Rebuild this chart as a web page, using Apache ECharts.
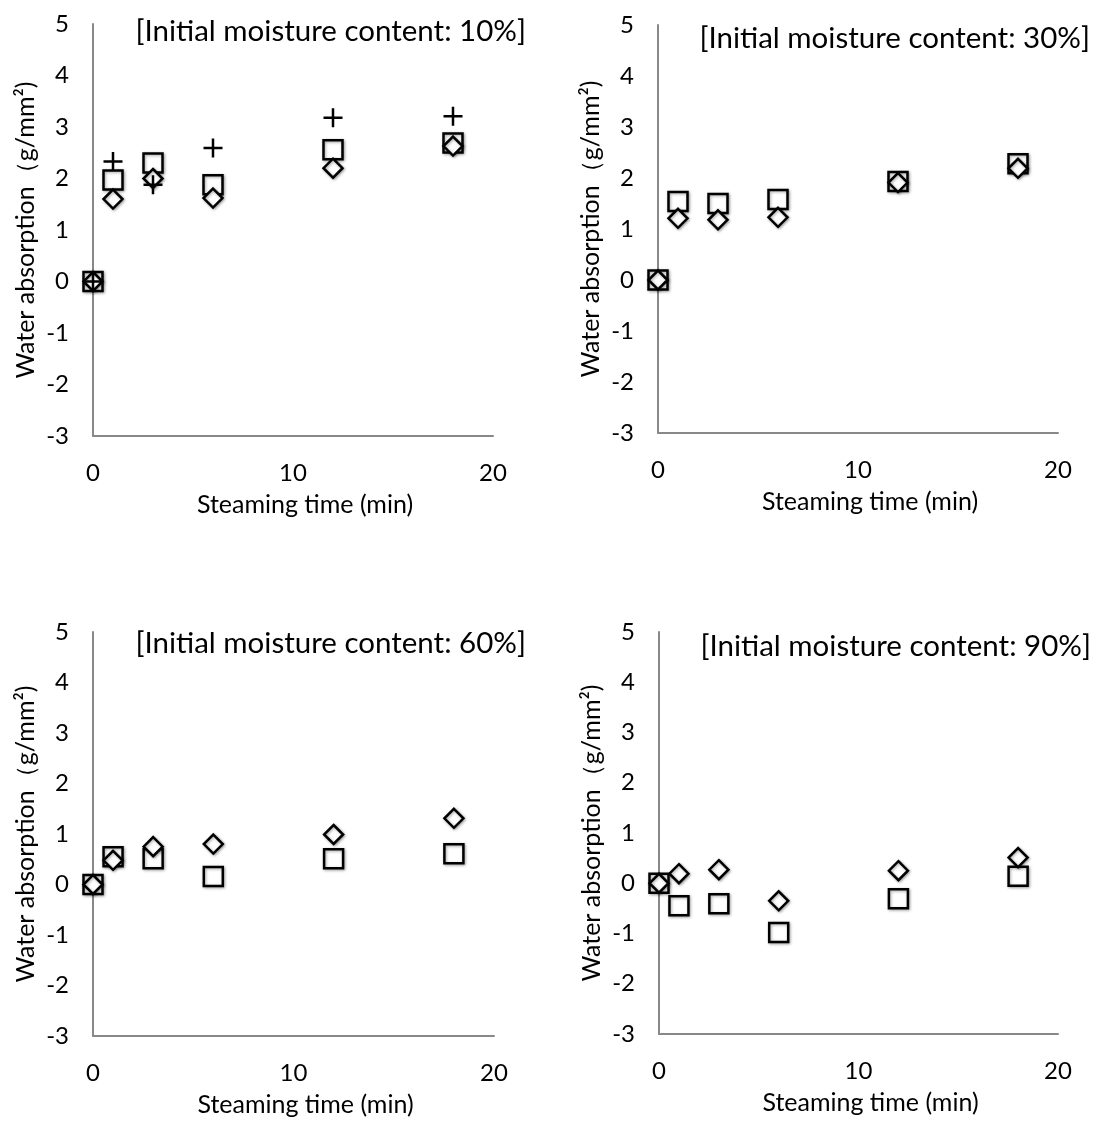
<!DOCTYPE html>
<html>
<head>
<meta charset="utf-8">
<script src="https://cdn.jsdelivr.net/npm/echarts@6/dist/echarts.min.js"></script>
<style>
html,body{margin:0;padding:0;background:#fff;}
#chart{width:1102px;height:1127px;}
</style>
</head>
<body>
<div id="chart"></div>
<script>
const times = [0, 1, 3, 6, 12, 18];
const xTicks = [0, 10, 20];
const yTicks = [-3, -2, -1, 0, 1, 2, 3, 4, 5];
const panelTitles = [
  '[Initial moisture content: 10%]',
  '[Initial moisture content: 30%]',
  '[Initial moisture content: 60%]',
  '[Initial moisture content: 90%]'
];
const mc10Square  = [0, 1.97, 2.30, 1.88, 2.56, 2.69];
const mc10Diamond = [0, 1.60, 2.00, 1.62, 2.20, 2.63];
const mc10Plus    = [0, 2.33, 1.88, 2.59, 3.18, 3.21];
const mc30Square  = [0, 1.54, 1.50, 1.58, 1.93, 2.28];
const mc30Diamond = [0, 1.21, 1.18, 1.23, 1.91, 2.19];
const mc60Square  = [0, 0.55, 0.51, 0.16, 0.51, 0.61];
const mc60Diamond = [0, 0.48, 0.75, 0.80, 0.99, 1.31];
const mc90Square  = [0, -0.45, -0.41, -0.98, -0.31, 0.14];
const mc90Diamond = [0, 0.19, 0.27, -0.35, 0.25, 0.51];

const FONT = 'Lato';
const grids = [
  {left: 93, top: 24, width: 400, height: 412},
  {left: 658, top: 25, width: 400, height: 408},
  {left: 93, top: 632, width: 401, height: 404},
  {left: 659, top: 632, width: 399, height: 402}
];
const titlePos = [
  {right: 571, top: 11},
  {right: 7, top: 18},
  {right: 571, top: 623},
  {right: 6, top: 626}
];
const panelSeries = [
  [['square', mc10Square], ['diamond', mc10Diamond], ['plus', mc10Plus]],
  [['square', mc30Square], ['diamond', mc30Diamond]],
  [['square', mc60Square], ['diamond', mc60Diamond]],
  [['square', mc90Square], ['diamond', mc90Diamond]]
];

const axisLine = {show: true, onZero: false, lineStyle: {color: '#888', width: 2}};
const xAxes = [], yAxes = [], series = [], titles = [];
grids.forEach((g, i) => {
  titles.push({
    text: panelTitles[i],
    right: titlePos[i].right, top: titlePos[i].top,
    textStyle: {fontFamily: FONT, fontSize: 29.5, fontWeight: 'normal', color: '#000'}
  });
  xAxes.push({
    type: 'value', gridIndex: i, min: xTicks[0], max: xTicks[xTicks.length - 1], interval: 10,
    axisLine: axisLine, axisTick: {show: false}, splitLine: {show: false},
    axisLabel: {fontFamily: FONT, fontSize: 24, color: '#000', margin: 25},
    name: 'Steaming time (min)', nameLocation: 'middle', nameGap: 56,
    nameTextStyle: {fontFamily: FONT, fontSize: 25, color: '#000', padding: [0, 0, 0, 24]}
  });
  yAxes.push({
    type: 'value', gridIndex: i, min: yTicks[0], max: yTicks[yTicks.length - 1], interval: 1,
    axisLine: axisLine, axisTick: {show: false}, splitLine: {show: false},
    axisLabel: {fontFamily: FONT, fontSize: 24, color: '#000', margin: 24},
    name: 'Water absorption（g/mm²)', nameLocation: 'middle', nameGap: 55, nameRotate: 90,
    nameTextStyle: {fontFamily: FONT, fontSize: 25, color: '#000'}
  });
  panelSeries[i].forEach(([kind, vals]) => {
    const data = times.map((t, k) => [t, vals[k]]);
    let s = {
      type: 'scatter', xAxisIndex: i, yAxisIndex: i, data: data,
      itemStyle: {color: '#fff', opacity: 1, borderColor: '#000', borderWidth: 2.5,
        shadowColor: 'rgba(0,0,0,0.35)', shadowBlur: 3, shadowOffsetX: 1, shadowOffsetY: 1},
      emphasis: {disabled: true}
    };
    if (kind === 'square') { s.symbol = 'rect'; s.symbolSize = 19; s.z = 2; }
    if (kind === 'diamond') { s.symbol = 'diamond'; s.symbolSize = 19; s.z = 3; }
    if (kind === 'plus') {
      s.symbol = 'path://M0,5 L10,5 M5,0 L5,10';
      s.symbolSize = 19; s.z = 4;
      s.itemStyle = {color: 'none', opacity: 1, borderColor: '#000', borderWidth: 2.5};
    }
    series.push(s);
  });
});

const chart = echarts.init(document.getElementById('chart'), null, {renderer: 'canvas'});
chart.setOption({
  backgroundColor: '#fff',
  animation: false,
  title: titles,
  grid: grids,
  xAxis: xAxes,
  yAxis: yAxes,
  series: series
});
</script>
</body>
</html>
